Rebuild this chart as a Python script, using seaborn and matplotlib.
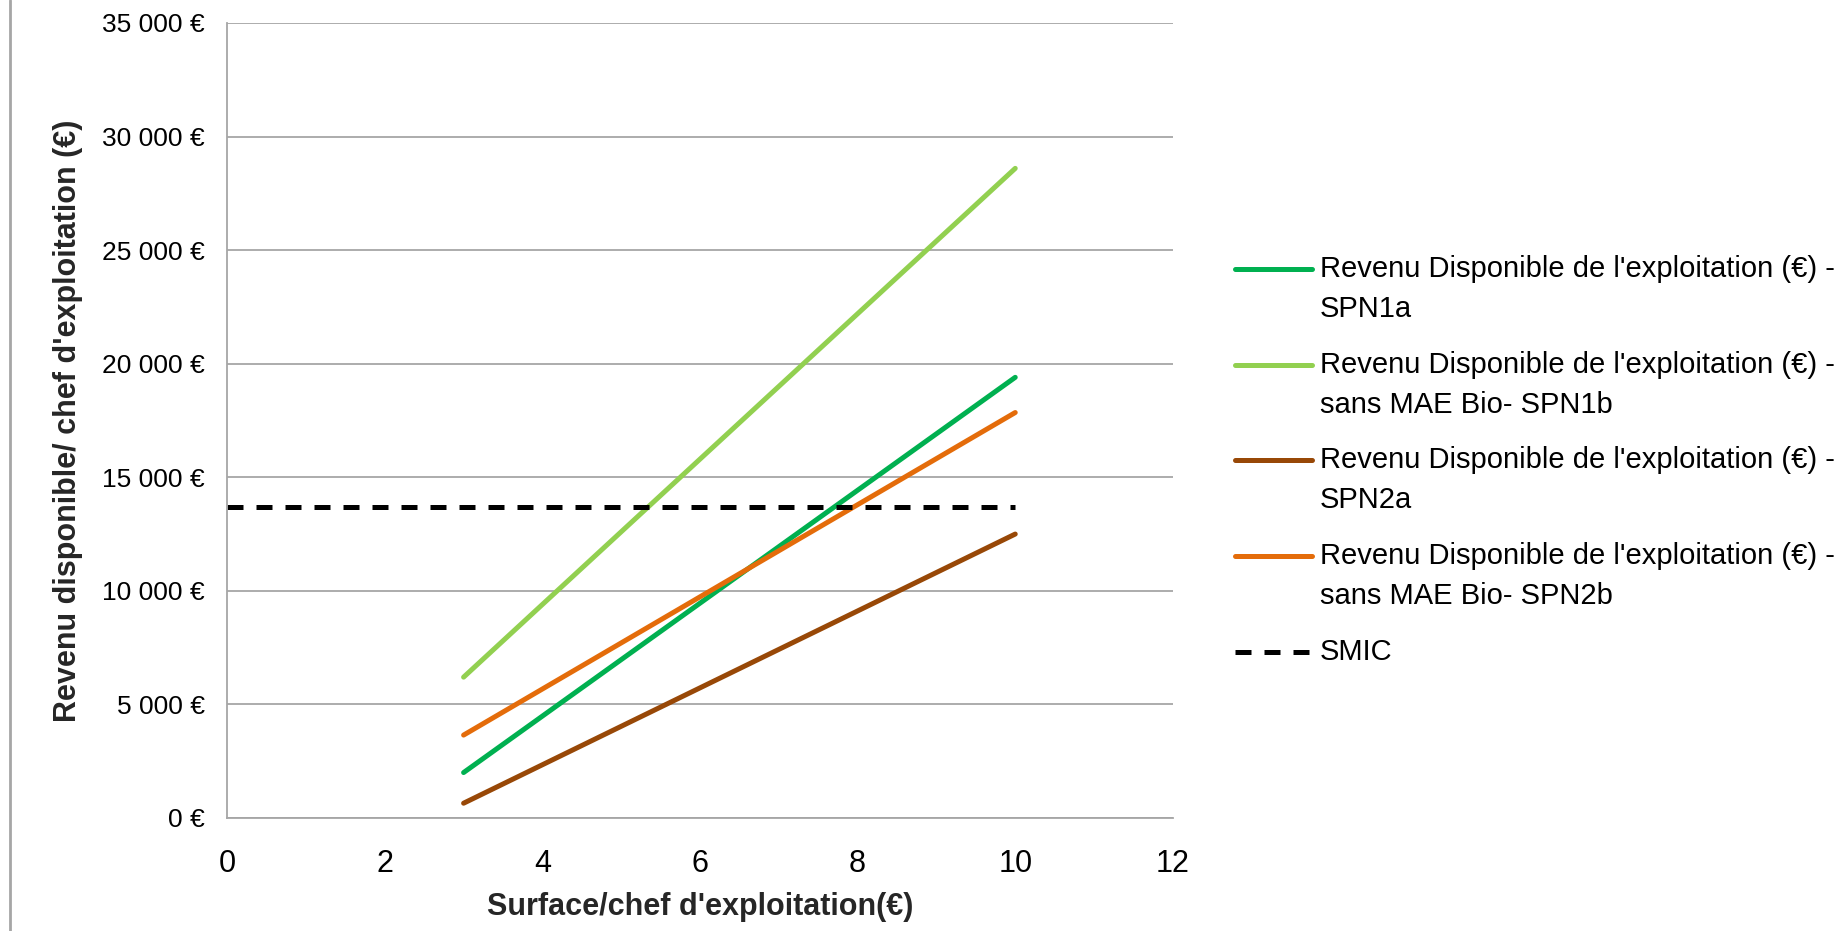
import matplotlib
matplotlib.use('Agg')
import matplotlib.pyplot as plt
import seaborn as sns
import pandas as pd
from matplotlib.lines import Line2D
from matplotlib.ticker import FuncFormatter

# values (surface 3 and 10)
surface = [3, 10]
spn1a = [2000, 19400]
spn1b = [6200, 28600]
spn2a = [650, 12500]
spn2b = [3650, 17850]
smic_x = [0, 10]
smic = [13700, 13700]

labels = [
    "Revenu Disponible de l'exploitation (€) -\nSPN1a",
    "Revenu Disponible de l'exploitation (€) -\nsans MAE Bio- SPN1b",
    "Revenu Disponible de l'exploitation (€) -\nSPN2a",
    "Revenu Disponible de l'exploitation (€) -\nsans MAE Bio- SPN2b",
    "SMIC",
]
colors = ['#00B050', '#92D050', '#984807', '#E46C0A', '#000000']

rows = []
for lab, ys in zip(labels[:4], [spn1a, spn1b, spn2a, spn2b]):
    for x, y in zip(surface, ys):
        rows.append({'surface': x, 'revenu': y, 'serie': lab})
for x, y in zip(smic_x, smic):
    rows.append({'surface': x, 'revenu': y, 'serie': labels[4]})
df = pd.DataFrame(rows)

sns.set_theme(style='white')
plt.rcParams['font.family'] = ['Liberation Sans', 'DejaVu Sans']

W, H = 1847, 931
fig = plt.figure(figsize=(W / 100, H / 100), dpi=100)
ax = fig.add_axes([0.123, 0.1214, 0.512, 0.8539])

lw = 3.6
dash = (3.2, 2.6)
dashes = {lab: '' for lab in labels[:4]}
dashes['SMIC'] = dash
sns.lineplot(data=df, x='surface', y='revenu', hue='serie', style='serie',
             hue_order=labels, style_order=labels,
             palette=dict(zip(labels, colors)), dashes=dashes,
             linewidth=lw, ax=ax, legend=False)

ax.set_xlim(0, 12)
ax.set_ylim(0, 35000)
ax.set_xticks(range(0, 13, 2))
ax.set_yticks(range(0, 35001, 5000))
ax.yaxis.set_major_formatter(FuncFormatter(lambda v, p: f"{int(v):,}".replace(',', ' ') + ' €'))
ax.tick_params(axis='both', length=0, colors='black')
ax.tick_params(axis='y', labelsize=19, pad=16)
ax.tick_params(axis='x', labelsize=22, pad=22)
ax.grid(axis='y', color='#A6A6A6', linewidth=1.3)
for s in ['top', 'right']:
    ax.spines[s].set_visible(False)
for s in ['left', 'bottom']:
    ax.spines[s].set_color('#A6A6A6')
    ax.spines[s].set_linewidth(1.3)

ax.set_xlabel("Surface/chef d'exploitation(€)", fontsize=22, fontweight='bold', labelpad=10)
ax.set_ylabel("Revenu disponible/ chef d'exploitation (€)", fontsize=22, fontweight='bold', labelpad=14)

# legend laid out like the Excel one: handle beside the first line of each label
first_y = 269
step = 95.7
line_gap = 40
for i, (lab, c) in enumerate(zip(labels, colors)):
    y0 = first_y + step * i
    ls = (0, dash) if lab == 'SMIC' else '-'
    fig.add_artist(Line2D([1235 / W, 1312 / W], [1 - y0 / H, 1 - y0 / H],
                          transform=fig.transFigure, color=c, linewidth=lw, linestyle=ls))
    for j, part in enumerate(lab.split('\n')):
        fig.text(1320 / W, 1 - (y0 + line_gap * j) / H, part, fontsize=21,
                 ha='left', va='center', color='black')

# chart border on the left
fig.add_artist(Line2D([0.0055, 0.0055], [0, 1], transform=fig.transFigure, color='#A6A6A6', linewidth=2))

fig.savefig('out.png', dpi=100)
